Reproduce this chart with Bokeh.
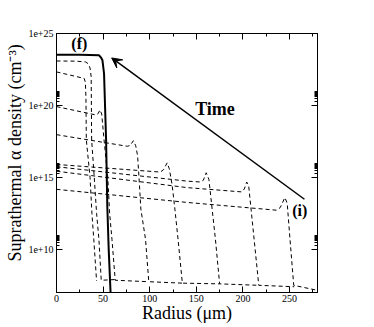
from bokeh.plotting import figure
from bokeh.models import (LinearAxis, LogAxis, FixedTicker, CustomJSTickFormatter,
                          Arrow, VeeHead, ColumnDataSource, Range1d, Title)
from bokeh.core.properties import value
from bokeh.embed import file_html
from bokeh.resources import INLINE

# ---------------- data ----------------
radius_solid = [0, 25, 45.7, 48, 49.3, 51, 53.2, 54.5, 56, 58, 58.5]
density_solid = [3.39e23, 3.3e23, 3.02e23, 2.0e23, 1.38e23, 1.66e22, 4.17e17, 1e13, 1e10, 1e7, 3e6]

radius_a = [0, 20, 31, 34, 36, 37.2, 37.7, 40.5, 43, 45.5, 48, 63]
density_a = [1.23e23, 1.20e23, 1.07e23, 7.94e22, 3.98e22, 1.0e22, 3.98e17, 1e15, 3.16e12, 5.01e10, 7.08e7, 7.94e7]

radius_b = [0, 29.7, 31, 31.6, 32, 36, 38, 40, 43]
density_b = [2.14e22, 7.59e21, 3.98e21, 3.16e20, 3.98e17, 1e15, 3.16e12, 5.01e10, 6.31e7]

radius_c = [0, 42.2, 44.5, 46.7, 48.5, 51, 55, 57, 59.5, 63, 99]
density_c = [8.32e19, 2.19e19, 2.63e19, 4.90e19, 2.51e19, 4.17e17, 1e15, 3.16e12, 5.01e10, 7.08e7, 5.62e7]

radius_d = [0, 76, 79, 82.5, 85, 87, 88.5, 90.5, 95.5, 99, 135]
density_d = [9.33e17, 1.45e17, 1.66e17, 3.55e17, 1.58e17, 3.16e16, 1e15, 6.31e12, 5.01e10, 5.62e7, 4.47e7]

radius_e = [0, 111.5, 115, 118.7, 121, 124, 127, 130.4, 135, 175]
density_e = [7.94e15, 2.34e15, 3.55e15, 1.02e16, 3.98e15, 3.16e14, 6.31e12, 5.01e10, 4.47e7, 3.98e7]

radius_f = [0, 140, 154, 157.5, 160.6, 163.5, 170.5, 175, 217]
density_f = [5.50e15, 5.50e14, 4.79e14, 6.31e14, 2.09e15, 7.24e14, 5.01e10, 3.98e7, 3.16e7]

radius_g = [0, 140, 199, 201.5, 204, 206.2, 212, 217, 255]
density_g = [2.69e15, 1.95e14, 9.77e13, 1.58e14, 4.79e14, 2.51e14, 5.01e10, 3.16e7, 2.51e7]

radius_h = [0, 140, 236, 240, 245, 247.5, 250.5, 254.5, 280]
density_h = [1.48e14, 1.82e13, 5.25e12, 7.94e12, 3.98e13, 1.58e13, 5.01e10, 3.16e7, 1.41e7]

dashed_series = [(radius_a, density_a), (radius_b, density_b), (radius_c, density_c),
                 (radius_d, density_d), (radius_e, density_e), (radius_f, density_f),
                 (radius_g, density_g), (radius_h, density_h)]

x_major_ticks = [0, 50, 100, 150, 200, 250]
x_minor_ticks = [25, 75, 125, 175, 225, 275]
y_major_ticks = [1e10, 1e15, 1e20, 1e25]
y_minor_ticks = [k * 10.0 ** n for n in (10, 15, 20) for k in range(2, 10)]

annotation_text = ["(f)", "Time", "(i)"]
annotation_x = [24.5, 170, 261]
annotation_y = [1.9e24, 5.75e19, 4.79e12]
annotation_size = ["16px", "18px", "16px"]

arrow_start = (266, 3.02e13)
arrow_end = (59.2, 2.0e23)

x_title = "Radius (μm)"
y_title = "Suprathermal α density (cm⁻³)"

FONT = "Liberation Serif"

# ---------------- figure ----------------
p = figure(width=372, height=325, x_range=Range1d(0, 280), y_range=Range1d(1e7, 1e25),
           y_axis_type="log", output_backend="svg", toolbar_location=None,
           min_border_left=56, min_border_right=55, min_border_top=33, min_border_bottom=31)
p.xgrid.visible = False
p.ygrid.visible = False
p.outline_line_color = "black"
p.outline_line_width = 1
p.background_fill_color = "white"
p.border_fill_color = "white"


def style_axis(ax):
    ax.axis_line_color = "black"
    ax.major_tick_line_color = "black"
    ax.minor_tick_line_color = "black"
    ax.major_tick_in = 6
    ax.major_tick_out = 0
    ax.minor_tick_in = 3
    ax.minor_tick_out = 0
    ax.major_label_text_font = FONT
    ax.major_label_text_font_size = "10px"
    ax.major_label_text_color = "black"
    ax.axis_label_text_font = FONT
    ax.axis_label_text_font_style = "normal"
    ax.axis_label_text_font_size = "18px"
    ax.axis_label_text_color = "black"


xax = p.xaxis[0]
xax.ticker = FixedTicker(ticks=x_major_ticks, minor_ticks=x_minor_ticks)
style_axis(xax)
xax.axis_label = x_title
xax.major_label_standoff = 2
xax.axis_label_standoff = -2

yax = p.yaxis[0]
yax.ticker = FixedTicker(ticks=y_major_ticks, minor_ticks=y_minor_ticks)
yax.formatter = CustomJSTickFormatter(code="return tick.toExponential();")
style_axis(yax)
yax.major_label_standoff = 3

blank = CustomJSTickFormatter(code="return '';")
top = LinearAxis(ticker=FixedTicker(ticks=x_major_ticks, minor_ticks=x_minor_ticks), formatter=blank)
style_axis(top)
top.major_label_text_font_size = "1px"
top.major_label_standoff = 0
p.add_layout(top, "above")

right = LogAxis(ticker=FixedTicker(ticks=y_major_ticks, minor_ticks=y_minor_ticks), formatter=blank)
style_axis(right)
right.major_label_text_font_size = "1px"
right.major_label_standoff = 0
p.add_layout(right, "right")

# y-axis title, placed as in the reference (a bit above the frame centre)
p.add_layout(Title(text=y_title, align="left", offset=31, standoff=2,
                   text_font=FONT, text_font_size="18px", text_font_style="normal",
                   text_color="black"), "left")

# curves
for rx, dy in dashed_series:
    p.line(rx, dy, line_color="black", line_width=1, line_dash="4 3")
p.line(radius_solid, density_solid, line_color="black", line_width=2)

# arrow
p.add_layout(Arrow(x_start=arrow_start[0], y_start=arrow_start[1],
                   x_end=arrow_end[0], y_end=arrow_end[1],
                   line_color="black", line_width=1.5,
                   end=VeeHead(size=10, fill_color="black", line_color="black")))

# annotations
src = ColumnDataSource(dict(x=annotation_x, y=annotation_y, t=annotation_text, s=annotation_size))
p.text(x="x", y="y", text="t", source=src, text_font=value(FONT), text_font_style="bold",
       text_font_size="s", text_align="center", text_baseline="middle", text_color="black")

open("out.html", "w").write(file_html(p, INLINE))
